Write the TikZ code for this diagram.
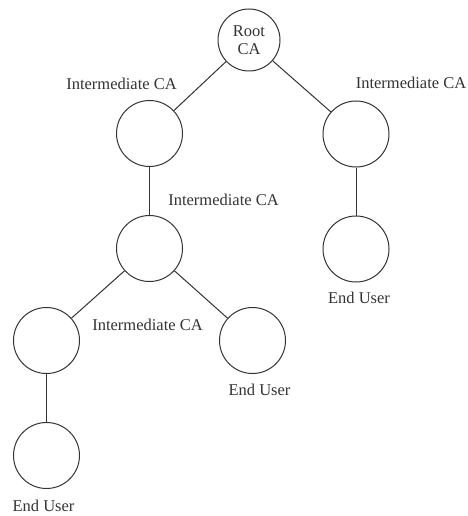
\documentclass[tikz,border=0pt]{standalone}
\usepackage{fontspec}
\setmainfont{Liberation Serif}
\usetikzlibrary{positioning}

\begin{document}
\begin{tikzpicture}[on grid,line width=1pt,color=black!80,
    main node/.style={circle,draw,minimum size=66pt,inner sep=0pt,align=center,font=\fontsize{16.5}{18.5}\selectfont},
    tag/.style={inner sep=0pt,font=\fontsize{16.5}{18.5}\selectfont}]
            \useasboundingbox (0,0) rectangle (467pt,-516pt);

            \node[main node,minimum size=62pt] (root) at (249pt,-40pt) {Root\\CA};
            \node[main node] (ca1) [below left=93.5pt and 99.5pt of root] {};
            \node[main node] (ca2) [below right=94pt and 107pt of root] {};
            \node[main node] (user1) [below=115pt of ca2] {};
            \node[main node] (ca3) [below=115pt of ca1] {};
            \node[main node] (ca4) [below left=92pt and 103pt of ca3] {};
            \node[main node] (user2) [below right=92pt and 103pt of ca3] {};
            \node[main node] (user3) [below=115pt of ca4] {};

            \node[tag] (ca1 label) [above left=50pt and 28pt of ca1] {Intermediate CA};
            \node[tag] (ca2 label) [above right=51pt and 55pt of ca2] {Intermediate CA};
            \node[tag] (ca3 label) [above right=49pt and 74pt of ca3] {Intermediate CA};
            \node[tag] (ca4 label) [above right=16pt and 101pt of ca4] {Intermediate CA};
            \node[tag] (user1 label) [below right=49pt and 3pt of user1] {End User};
            \node[tag] (user2 label) [below right=49pt and 7pt of user2] {End User};
            \node[tag] (user3 label) [below left=50pt and 3pt of user3] {End User};

            \path
            (root) edge (ca1)
            (root) edge (ca2)
            (ca2) edge (user1)
            (ca1) edge (ca3)
            (ca3) edge (ca4)
            (ca3) edge (user2)
            (ca4) edge (user3)
            ;
        \end{tikzpicture}
\end{document}
